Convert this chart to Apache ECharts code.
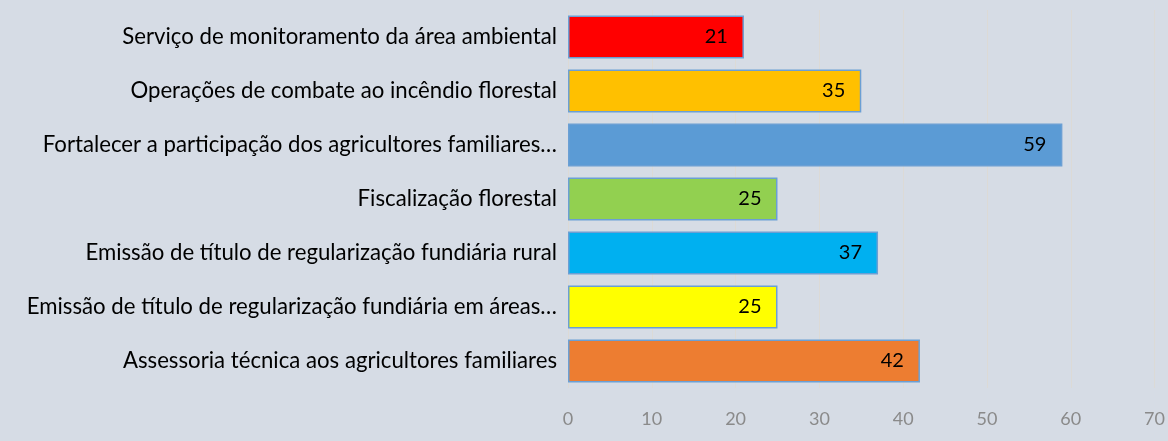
<!DOCTYPE html>
<html><head><meta charset="utf-8">
<script src="https://cdn.jsdelivr.net/npm/echarts@6/dist/echarts.min.js"></script>
<style>html,body{margin:0;padding:0;background:#d6dce5;}#c{width:1168px;height:441px;}</style>
</head><body><div id="c"></div>
<script>
const categories = [
  "Serviço de monitoramento da área ambiental",
  "Operações de combate ao incêndio florestal",
  "Fortalecer a participação dos agricultores familiares…",
  "Fiscalização florestal",
  "Emissão de título de regularização fundiária rural",
  "Emissão de título de regularização fundiária em áreas…",
  "Assessoria técnica aos agricultores familiares"
];
const values = [21, 35, 59, 25, 37, 25, 42];
const barColors = ["#ff0000", "#ffc000", "#5b9bd5", "#92d050", "#00b0f0", "#ffff00", "#ed7d31"];
const xTicks = [0, 10, 20, 30, 40, 50, 60, 70];

const chart = echarts.init(document.getElementById('c'));
const font = "Lato";
chart.setOption({
  backgroundColor: '#d6dce5',
  animation: false,
  grid: {left: 568, right: 12, top: 10, bottom: 53, containLabel: false},
  xAxis: {
    type: 'value', min: 0, max: 70, interval: 10,
    axisLine: {show: false}, axisTick: {show: false},
    splitLine: {show: true, lineStyle: {color: '#dcdad6', width: 1}},
    axisLabel: {color: '#8a8a8a', fontSize: 18, fontFamily: font, margin: 22,
      formatter: v => xTicks.includes(v) ? String(v) : ''}
  },
  yAxis: {
    type: 'category', data: categories, inverse: true,
    axisLine: {show: false}, axisTick: {show: false},
    axisLabel: {color: '#000', fontSize: 22.2, fontFamily: font, margin: 11}
  },
  series: [{
    type: 'bar',
    data: values.map((v, i) => ({value: v, itemStyle: {color: barColors[i]}})),
    barCategoryGap: '20%',
    itemStyle: {borderColor: '#6b9fd4', borderWidth: 1.5},
    label: {show: true, position: 'insideRight', distance: 16, color: '#000',
      fontSize: 20, fontFamily: font}
  }]
});
</script></body></html>
